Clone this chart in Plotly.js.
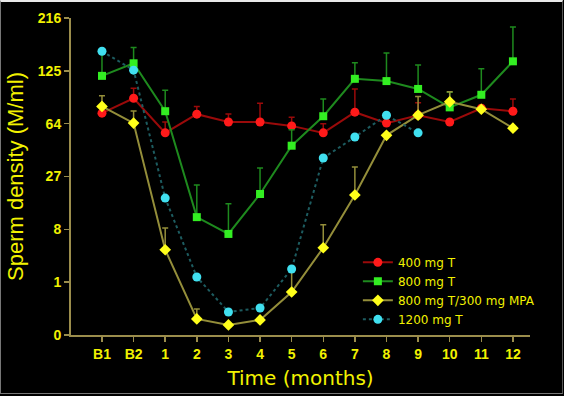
<!DOCTYPE html>
<html>
<head>
<meta charset="utf-8">
<script src="https://cdn.plot.ly/plotly-3.0.1.min.js"></script>
<style>
html,body{margin:0;padding:0;background:#000;}
#wrap{position:relative;width:564px;height:396px;}
#chart{width:564px;height:396px;}
#frame{position:absolute;left:0;top:0;width:563px;height:394px;border-top:2px solid #e8e8e8;border-left:1px solid #777;border-right:1px solid #555;border-bottom:1px solid #777;pointer-events:none;box-sizing:border-box;}
</style>
</head>
<body>
<div id="wrap"><div id="chart"></div><div id="frame"></div></div>
<script>
// Categories (time points)
const categories = ["B1","B2","1","2","3","4","5","6","7","8","9","10","11","12"];

// Sperm density (M/ml)
const t400 = [74, 90, 56, 73, 65.5, 65.5, 62, 56, 75, 64.5, 72, 65.5, 79, 76];
const t400Err = [0, 12, 9.5, 8, 7.7, 19, 8, 8, 26, 0, 13, 0, 0, 13];

const t800 = [118, 136, 76, 11.1, 7.0, 19, 46, 71, 114, 111, 101, 80, 94, 139];
const t800Err = [36, 25, 23.5, 11.8, 8.3, 12.6, 12.6, 18, 22.7, 41, 32.5, 17, 34, 59];

const t800mpa = [81, 64.5, 4.2, 0.028, 0.007, 0.023, 0.54, 4.5, 18.6, 54, 72, 86, 78, 60];
const t800mpaErr = [12, 11.6, 4.1, 0.09, 0, 0, 1.4, 4.6, 13.6, 0, 20, 11.5, 0, 0];

const t1200 = [155, 126, 17.4, 1.32, 0.083, 0.133, 1.95, 37.6, 52.6, 72, 56, null, null, null];

// Y tick labels (cube-root scale)
const yTickText = ["0","1","8","27","64","125","216"];

const cbrt = v => (v === null ? null : Math.cbrt(v));
const xIdx = categories.map((c, i) => i);

function errArr(vals, errs) {
  return vals.map((v, i) => (v === null ? 0 : Math.cbrt(v + errs[i]) - Math.cbrt(v)));
}

function trace(name, vals, errs, lineColor, markerColor, symbol, dash, msize) {
  const t = {
    x: xIdx,
    y: vals.map(cbrt),
    name: name,
    type: "scatter",
    mode: "lines+markers",
    line: {color: lineColor, width: 2, dash: dash},
    marker: {color: markerColor, symbol: symbol, size: msize, line: {width: 0}},
    connectgaps: false
  };
  if (errs) {
    t.error_y = {type: "data", symmetric: false, array: errArr(vals, errs),
      arrayminus: vals.map(() => 0), color: lineColor, thickness: 1.5, width: 3};
  }
  return t;
}

const data = [
  trace("400 mg T", t400, t400Err, "#9a0a0a", "#ff1a1a", "circle", "solid", 9),
  trace("800 mg T", t800, t800Err, "#1e8a1e", "#33ee22", "square", "solid", 8),
  trace("800 mg T/300 mg MPA", t800mpa, t800mpaErr, "#948e3a", "#ffff1a", "diamond", "solid", 9),
  trace("1200 mg T", t1200, null, "#1d5c60", "#40e0f0", "circle", "dot", 9)
];

const axisColor = "#9b8d4c";
const textColor = "#f2f200";
const wideFont = "DejaVu Sans, Arial, sans-serif";
const tickFontFam = "Arial, Liberation Sans, sans-serif";

const layout = {
  width: 564, height: 396,
  paper_bgcolor: "#000", plot_bgcolor: "#000",
  margin: {l: 71, r: 34, t: 18, b: 61},
  showlegend: true,
  legend: {x: 0.625, y: 0.275, xanchor: "left", yanchor: "top",
    bgcolor: "rgba(0,0,0,0)", font: {family: wideFont, size: 12, color: textColor}},
  xaxis: {
    range: [-0.98, 13.54],
    tickvals: xIdx, ticktext: categories,
    showgrid: false, zeroline: false,
    showline: true, linecolor: axisColor, linewidth: 2,
    ticks: "outside", tickcolor: axisColor, ticklen: 5, tickwidth: 1.5,
    tickfont: {family: tickFontFam, size: 14, color: textColor, weight: "bold"},
    title: {text: "Time (months)", font: {family: wideFont, size: 20, color: textColor}, standoff: 10}
  },
  yaxis: {
    range: [0, 6],
    tickvals: yTickText.map(v => Math.cbrt(Number(v))), ticktext: yTickText,
    showgrid: false, zeroline: false,
    showline: true, linecolor: axisColor, linewidth: 2,
    ticks: "outside", tickcolor: axisColor, ticklen: 5, tickwidth: 1.5,
    tickfont: {family: tickFontFam, size: 14, color: textColor, weight: "bold"},
    title: {text: "Sperm density (M/ml)", font: {family: tickFontFam, size: 22, color: textColor}, standoff: 8}
  }
};

Plotly.newPlot("chart", data, layout, {displayModeBar: false, staticPlot: true});
</script>
</body>
</html>
